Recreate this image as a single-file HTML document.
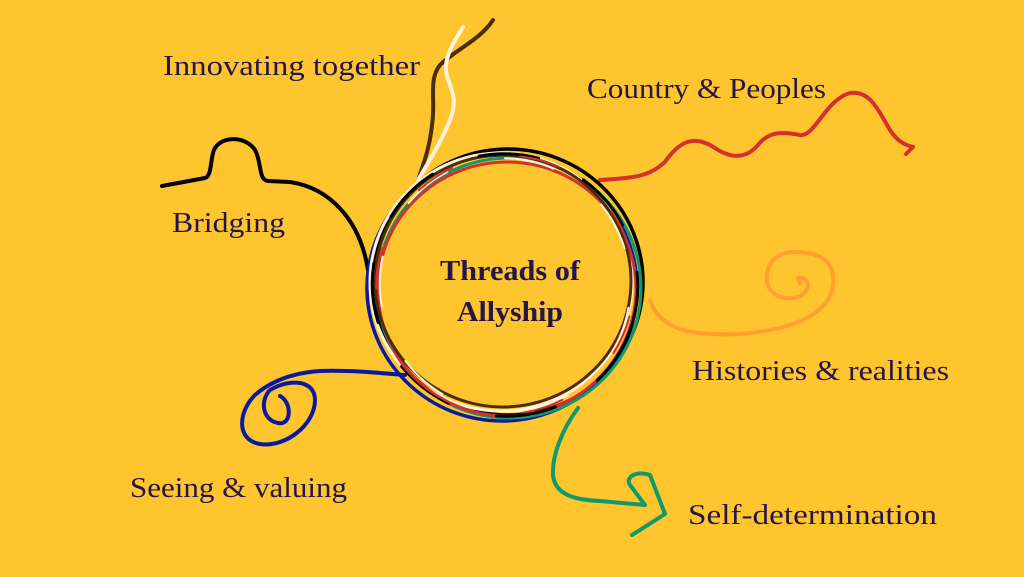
<!DOCTYPE html>
<html><head><meta charset="utf-8"><style>
html,body{margin:0;padding:0;background:#FFC52E;}
svg{display:block}
text{font-family:"Liberation Serif",serif;fill:#22164a;}
</style></head><body>
<svg width="1024" height="577" viewBox="0 0 1024 577">
<rect width="1024" height="577" fill="#FFC52E"/>
<g fill="none" stroke-linecap="round" stroke-linejoin="round">
<path d="M162,186 L205,178 C212,176 210,160 214,150 C220,136 245,135 255,150 C262,162 258,180 268,181 L290,182 C330,188 360,220 368,270" stroke="#000" stroke-width="4"/>
<path d="M493,20 C480,40 455,50 440,65 C428,80 436,100 432,125 C430,145 425,160 418,180" stroke="#4a2e08" stroke-width="4"/>
<path d="M463,27 C455,40 445,55 446,70 C447,85 460,95 450,120 C442,140 430,160 418,180" stroke="#fff2d8" stroke-width="4"/>
<path d="M600,180 C640,178 650,175 665,162 C680,140 695,135 715,148 C730,158 745,160 758,145 C770,130 785,132 800,135 C815,137 825,100 850,93 C870,90 878,110 890,130 C898,142 905,145 913,147 L906,154" stroke="#d6302e" stroke-width="4"/>
<path d="M650,300 C660,330 690,336 740,334 C790,330 830,315 833,285 C836,258 815,252 795,252 C775,252 765,265 767,282 C770,298 790,302 802,295 C812,288 808,276 798,278 L800,284" stroke="#ff9f2e" stroke-width="4"/>
<path d="M405,375 C380,373 350,370 320,371 C290,373 270,382 255,395 C238,412 236,440 260,444 C285,448 315,425 315,400 C315,380 290,378 270,390 C260,400 262,420 278,423 C292,426 292,402 280,396" stroke="#0a1aa0" stroke-width="4"/>
<path d="M578,408 C562,430 552,455 553,475 C555,495 575,500 600,501 L645,505 M645,505 L630,485 C625,478 635,470 650,475 L665,514 L632,535" stroke="#0f9a6a" stroke-width="4"/>
<g transform="translate(505,285)">
<ellipse cx="3" cy="-3" rx="135" ry="133" stroke="#000" stroke-width="3.5"/>
<ellipse cx="-3" cy="3" rx="135" ry="133" stroke="#0a1aa0" stroke-width="3.5"/>
<ellipse cx="4" cy="3" rx="132" ry="130" stroke="#0f9a6a" stroke-width="3"/>
<ellipse cx="-4" cy="-3" rx="131" ry="129" stroke="#fff2d8" stroke-width="3"/>
<ellipse cx="2" cy="4" rx="129" ry="127" stroke="#d6302e" stroke-width="3"/>
<ellipse cx="-2" cy="-4" rx="128" ry="126" stroke="#4a2e08" stroke-width="3"/>
<ellipse cx="0" cy="0" rx="133" ry="131" stroke="#000" stroke-width="3" stroke-dasharray="60 50" transform="rotate(20)"/>
<ellipse cx="0" cy="0" rx="127" ry="125" stroke="#fff2d8" stroke-width="2" stroke-dasharray="50 60" transform="rotate(70)"/>
<ellipse cx="0" cy="0" rx="130" ry="128" stroke="#d6302e" stroke-width="2" stroke-dasharray="40 70" transform="rotate(130)"/>
</g>
</g>
<text x="163" y="75" font-size="28" textLength="257" lengthAdjust="spacingAndGlyphs">Innovating together</text>
<text x="587" y="98" font-size="28" textLength="239" lengthAdjust="spacingAndGlyphs">Country &amp; Peoples</text>
<text x="172" y="232" font-size="28" textLength="113" lengthAdjust="spacingAndGlyphs">Bridging</text>
<text x="692" y="380" font-size="28" textLength="257" lengthAdjust="spacingAndGlyphs">Histories &amp; realities</text>
<text x="130" y="497" font-size="28" textLength="217" lengthAdjust="spacingAndGlyphs">Seeing &amp; valuing</text>
<text x="688" y="524" font-size="28" textLength="249" lengthAdjust="spacingAndGlyphs">Self-determination</text>
<text x="440" y="280" font-size="28" font-weight="bold" textLength="140" lengthAdjust="spacingAndGlyphs">Threads of</text>
<text x="457" y="321" font-size="28" font-weight="bold" textLength="106" lengthAdjust="spacingAndGlyphs">Allyship</text>
</svg>
</body></html>
